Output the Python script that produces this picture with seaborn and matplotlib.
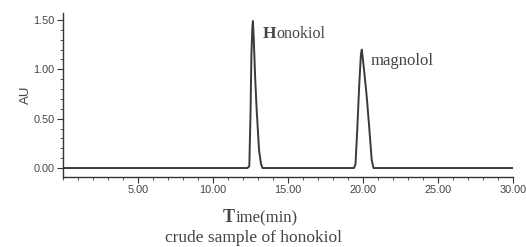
import matplotlib
matplotlib.use("Agg")
import matplotlib.pyplot as plt
import seaborn as sns
import pandas as pd
from matplotlib.ticker import MultipleLocator

# chromatogram (time in min, absorbance in AU)
time_min = [0.0, 12.30, 12.42, 12.50, 12.56, 12.62, 12.66, 12.72, 12.80, 12.91,
            13.07, 13.20, 13.30, 19.40, 19.50, 19.62, 19.75, 19.86, 19.92, 19.98,
            20.10, 20.25, 20.42, 20.58, 20.70, 30.0]
au = [0.0, 0.0, 0.02, 0.55, 1.15, 1.42, 1.49, 1.30, 0.95, 0.59,
      0.18, 0.04, 0.0, 0.0, 0.04, 0.40, 0.85, 1.15, 1.20, 1.12,
      0.95, 0.72, 0.40, 0.08, 0.0, 0.0]

x_ticks = [5, 10, 15, 20, 25, 30]
x_labels = ["5.00", "10.00", "15.00", "20.00", "25.00", "30.00"]
y_ticks = [0.0, 0.5, 1.0, 1.5]
y_labels = ["0.00", "0.50", "1.00", "1.50"]

peak_names = ["Honokiol", "magnolol"]
peak_times = [12.66, 19.92]
peak_heights = [1.49, 1.20]

df = pd.DataFrame({"time": time_min, "AU": au})

sns.set_style("white")
fig = plt.figure(figsize=(5.26, 2.47), dpi=100)
ax = fig.add_axes([0.1198, 0.2834, 0.8555, 0.664])

sns.lineplot(data=df, x="time", y="AU", sort=False, ax=ax,
             color="#3a3a3a", linewidth=1.4)

ax.set_xlim(0, 30)
ax.set_ylim(-0.091, 1.571)
ax.set_xticks(x_ticks)
ax.set_xticklabels(x_labels)
ax.set_yticks(y_ticks)
ax.set_yticklabels(y_labels)
ax.xaxis.set_minor_locator(MultipleLocator(1))
ax.yaxis.set_minor_locator(MultipleLocator(0.1))
ax.tick_params(axis="both", which="major", direction="out", length=4,
               width=0.8, color="#333333", labelsize=7.8, labelcolor="#444444",
               bottom=True, left=True, pad=2)
ax.tick_params(axis="both", which="minor", direction="out", length=2.5,
               width=0.7, color="#555555", bottom=True, left=True)
for lab in ax.get_xticklabels() + ax.get_yticklabels():
    lab.set_family("Liberation Sans")

sns.despine(ax=ax)
for s in ["left", "bottom"]:
    ax.spines[s].set_color("#333333")
    ax.spines[s].set_linewidth(1.0)

ax.set_xlabel("")
ax.set_ylabel("AU", family="Liberation Sans", fontsize=9.5, color="#444444")
ax.yaxis.set_label_coords(-0.068, 0.5)

serif = "Liberation Serif"
grey = "#444444"

# peak labels, Honokiol with an enlarged first letter
t1 = ax.annotate("H", xy=(peak_times[0], peak_heights[0]), xytext=(7.2, -11.9),
                 textcoords="offset points", fontsize=12.5, family=serif,
                 weight="bold", color=grey, va="baseline")
ax.annotate("onokiol", xy=(1, 0), xycoords=t1, xytext=(0.3, 0),
            textcoords="offset points", fontsize=11.5, family=serif,
            color=grey, va="bottom")
ax.annotate(peak_names[1], xy=(peak_times[1], peak_heights[1]), xytext=(6.5, -10.8),
            textcoords="offset points", fontsize=12, family=serif,
            color=grey, va="baseline")

# axis title with big T
t2 = fig.text(0.424, 0.101, "T", fontsize=13, family=serif, weight="bold",
              color=grey, va="baseline", ha="left")
ax.annotate("ime(min)", xy=(1, 0), xycoords=t2, xytext=(0.3, 0),
            textcoords="offset points", fontsize=12, family=serif,
            color=grey, va="bottom", annotation_clip=False)

fig.text(0.481, 0.02, "crude sample of honokiol", fontsize=12.5, family=serif,
         color=grey, ha="center", va="baseline")

fig.savefig("out.png", dpi=100)
